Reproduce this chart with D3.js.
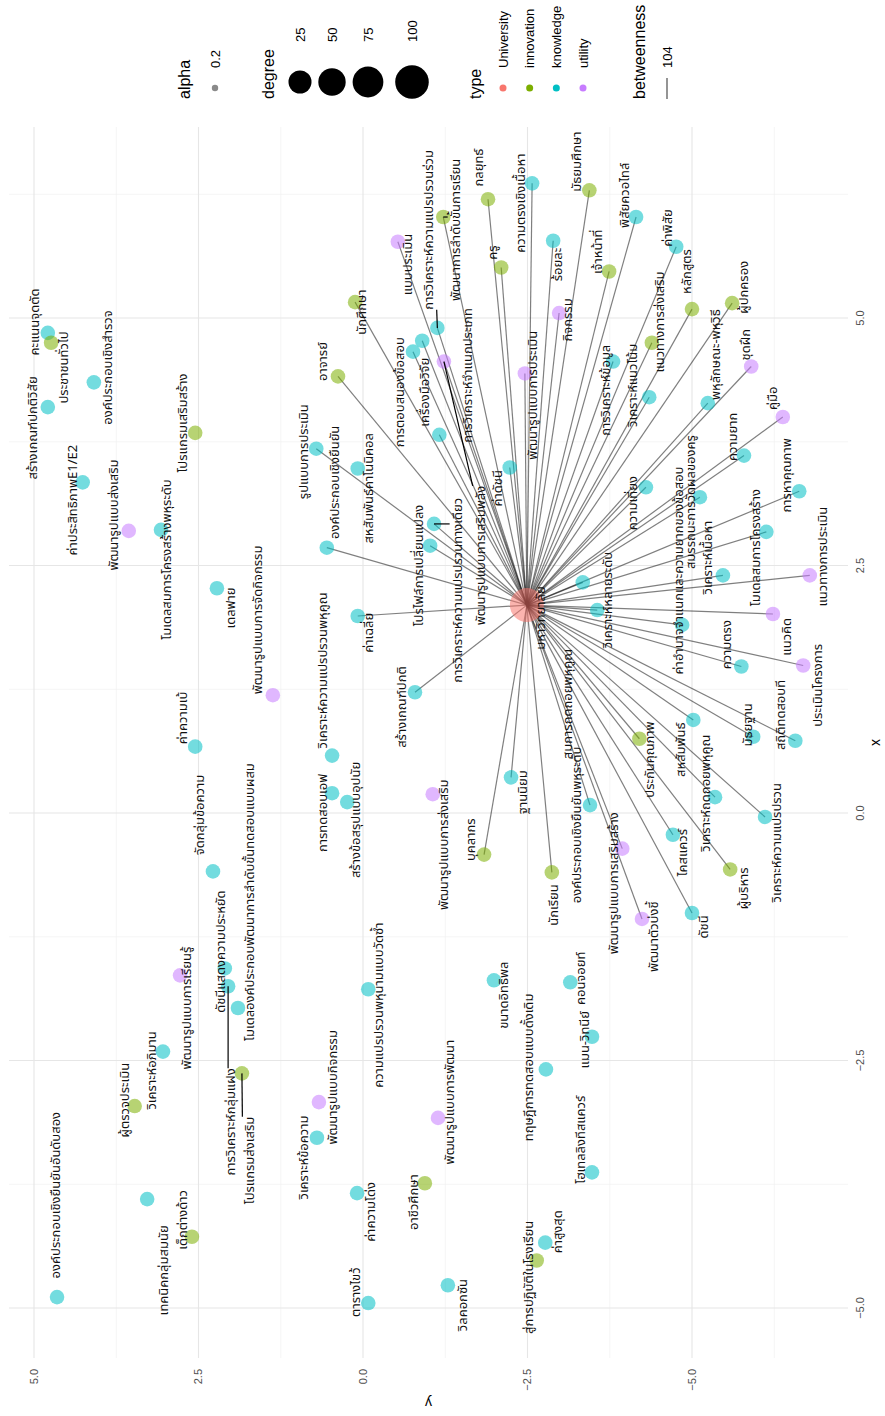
<!DOCTYPE html>
<html>
<head>
<meta charset="utf-8">
<script src="https://cdn.jsdelivr.net/npm/d3@7"></script>
<style>
  body { margin: 0; background: #fff; }
  text { font-family: "Liberation Sans", Arial, sans-serif; }
  .lbl { font-family: "Noto Sans Thai", "Noto Sans", "DejaVu Sans", sans-serif; font-size: 13px; fill: #111; }
</style>
</head>
<body>
<svg id="chart" width="885" height="1416"></svg>
<script>
// node table: name, type, layout x, layout y, label x, label y, linked to University
var nodes = [
  ["มหาวิทยาลัย", "University", 2.10, -2.49, 1.97, -2.69, 0],
  ["นักศึกษา", "innovation", 5.16, 0.12, 5.06, 0.02, 1],
  ["แบบประเมิน", "utility", 5.77, -0.53, 5.54, -0.68, 1],
  ["พัฒนาการลำดับขั้นการเรียน", "innovation", 6.02, -1.22, 5.89, -1.40, 1],
  ["การวิเคราะห์ความแปรปรวนร่วม", "knowledge", 4.90, -1.13, 5.89, -0.99, 1],
  ["กลยุทธ์", "innovation", 6.20, -1.90, 6.52, -1.75, 1],
  ["ครู", "innovation", 5.51, -2.10, 5.66, -1.96, 1],
  ["ความตรงเชิงเนื้อหา", "knowledge", 6.36, -2.57, 6.16, -2.39, 1],
  ["ร้อยละ", "knowledge", 5.78, -2.89, 5.54, -2.95, 1],
  ["มัธยมศึกษา", "innovation", 6.29, -3.44, 6.58, -3.25, 1],
  ["กิจกรรม", "utility", 5.05, -2.98, 4.98, -3.10, 1],
  ["เจ้าหน้าที่", "innovation", 5.47, -3.74, 5.67, -3.56, 1],
  ["พิสัยควอไทล์", "knowledge", 6.02, -4.15, 6.24, -3.98, 1],
  ["ค่าพิสัย", "knowledge", 5.72, -4.76, 5.91, -4.62, 1],
  ["หลักสูตร", "innovation", 5.09, -5.00, 5.47, -4.92, 1],
  ["ผู้ปกครอง", "innovation", 5.15, -5.61, 5.31, -5.78, 1],
  ["แนวทางการส่งเสริม", "innovation", 4.75, -4.39, 4.96, -4.51, 1],
  ["การวิเคราะห์ข้อมูล", "knowledge", 4.56, -3.80, 4.27, -3.68, 1],
  ["วิเคราะห์แนวโน้ม", "knowledge", 4.20, -4.35, 4.32, -4.10, 1],
  ["พหุลักษณะ-พหุวิธี", "knowledge", 4.14, -5.24, 4.63, -5.35, 1],
  ["ชุดฝึก", "utility", 4.51, -5.90, 4.73, -5.81, 1],
  ["คู่มือ", "utility", 4.00, -6.38, 4.19, -6.23, 1],
  ["ความยาก", "knowledge", 3.61, -5.79, 3.80, -5.62, 1],
  ["การหาคุณภาพ", "knowledge", 3.25, -6.63, 3.41, -6.44, 1],
  ["สมรรถนะการวัดผลของครู", "knowledge", 3.19, -5.12, 3.14, -4.97, 1],
  ["ความเที่ยง", "knowledge", 3.29, -4.30, 3.13, -4.09, 1],
  ["โมเดลสมการโครงสร้าง", "knowledge", 2.84, -6.13, 2.68, -5.96, 1],
  ["วิเคราะห์เนื้อหา", "knowledge", 2.40, -5.47, 2.58, -5.24, 1],
  ["แนวทางการประเมิน", "utility", 2.40, -6.79, 2.59, -6.98, 1],
  ["แนวคิด", "utility", 2.01, -6.23, 1.78, -6.44, 1],
  ["ค่าอำนาจจำแนกและความยากของข้อสอบ", "knowledge", 1.90, -4.85, 2.45, -4.79, 1],
  ["วิเคราะห์หลายระดับ", "knowledge", 2.05, -3.56, 2.15, -3.72, 1],
  ["สมการถดถอยพหุคูณ", "knowledge", 2.33, -3.34, 1.10, -3.10, 1],
  ["อาจารย์", "innovation", 4.41, 0.38, 4.56, 0.61, 1],
  ["รูปแบบการประเมิน", "knowledge", 3.68, 0.71, 3.65, 0.91, 1],
  ["องค์ประกอบเชิงยืนยัน", "knowledge", 2.68, 0.55, 3.34, 0.43, 1],
  ["สหสัมพันธ์คาโนนิคอล", "knowledge", 3.48, 0.08, 3.28, -0.08, 0],
  ["ค่าเฉลี่ย", "knowledge", 1.99, 0.08, 1.82, -0.08, 1],
  ["การตอบสนองข้อสอบ", "knowledge", 4.66, -0.76, 4.25, -0.56, 1],
  ["เครื่องมือวิจัย", "knowledge", 4.77, -0.90, 4.25, -0.94, 1],
  ["พัฒนารูปแบบการเสริมพลัง", "utility", 4.56, -1.23, 2.60, -1.78, 1],
  ["การวิเคราะห์จำแนกประเภท", "knowledge", 3.82, -1.16, 4.42, -1.58, 1],
  ["การวิเคราะห์ความแปรปรวนทางเดียว", "knowledge", 2.92, -1.08, 2.25, -1.43, 1],
  ["โปรไฟล์การเปลี่ยนแปลง", "knowledge", 2.70, -1.02, 2.50, -0.84, 1],
  ["ค่าดัชนี", "knowledge", 3.49, -2.23, 3.28, -2.04, 1],
  ["พัฒนารูปแบบการประเมิน", "utility", 4.44, -2.46, 4.22, -2.58, 1],
  ["สร้างเกณฑ์ปกติ", "knowledge", 1.22, -0.79, 1.07, -0.59, 1],
  ["ฐานนิยม", "knowledge", 0.36, -2.25, 0.21, -2.43, 1],
  ["บุคลากร", "innovation", -0.42, -1.84, -0.27, -1.63, 1],
  ["นักเรียน", "innovation", -0.60, -2.87, -0.93, -2.89, 1],
  ["องค์ประกอบเชิงยืนยันพหุระดับ", "knowledge", 0.08, -3.45, -0.12, -3.25, 1],
  ["พัฒนารูปแบบการเสริมสร้าง", "utility", -0.36, -3.94, -0.71, -3.80, 1],
  ["พัฒนาตัวบ่งชี้", "utility", -1.07, -4.24, -1.25, -4.41, 1],
  ["ดัชนี", "knowledge", -1.01, -5.00, -1.15, -5.17, 1],
  ["ผู้บริหาร", "innovation", -0.57, -5.58, -0.76, -5.78, 1],
  ["ไคสแควร์", "knowledge", -0.22, -4.71, -0.40, -4.86, 1],
  ["วิเคราะห์ความแปรปรวน", "knowledge", -0.04, -6.11, -0.30, -6.29, 1],
  ["วิเคราะห์ถดถอยพหุคูณ", "knowledge", 0.16, -5.35, 0.20, -5.20, 1],
  ["ประกันคุณภาพ", "innovation", 0.75, -4.20, 0.54, -4.36, 1],
  ["สหสัมพันธ์", "knowledge", 0.94, -5.02, 0.64, -4.82, 1],
  ["มัธยฐาน", "knowledge", 0.77, -5.93, 0.89, -5.84, 1],
  ["สถิติทดสอบที", "knowledge", 0.73, -6.57, 0.99, -6.34, 1],
  ["ความตรง", "knowledge", 1.48, -5.75, 1.70, -5.53, 1],
  ["ประเมินโครงการ", "utility", 1.49, -6.69, 1.29, -6.90, 1],
  ["วิเคราะห์ความแปรปรวนพหุคูณ", "knowledge", 0.58, 0.47, 1.44, 0.62, 0],
  ["การทดสอบเอฟ", "knowledge", 0.20, 0.47, 0.00, 0.62, 0],
  ["สร้างข้อสรุปแบบอุปนัย", "knowledge", 0.11, 0.24, -0.07, 0.12, 0],
  ["พัฒนารูปแบบการส่งเสริม", "utility", 0.19, -1.06, -0.32, -1.22, 0],
  ["องค์ประกอบเชิงยืนยันอันดับสอง", "knowledge", -4.89, 4.65, -3.86, 4.68, 0],
  ["คะแนนจุดตัด", "knowledge", 4.85, 4.79, 4.96, 4.99, 0],
  ["ประชาชนทั่วไป", "innovation", 4.75, 4.74, 4.50, 4.56, 0],
  ["สร้างเกณฑ์ปกติวิสัย", "knowledge", 4.10, 4.79, 3.89, 5.02, 0],
  ["องค์ประกอบเชิงสำรวจ", "knowledge", 4.35, 4.09, 4.50, 3.89, 0],
  ["ค่าประสิทธิภาพE1/E2", "knowledge", 3.34, 4.26, 3.16, 4.42, 0],
  ["โปรแกรมเสริมสร้าง", "innovation", 3.84, 2.55, 3.94, 2.75, 0],
  ["พัฒนารูปแบบส่งเสริม", "utility", 2.85, 3.56, 3.01, 3.80, 0],
  ["โมเดลสมการโครงสร้างพหุระดับ", "knowledge", 2.86, 3.07, 2.56, 2.98, 0],
  ["เดลฟาย", "knowledge", 2.27, 2.22, 2.07, 2.02, 0],
  ["พัฒนารูปแบบการจัดกิจกรรม", "utility", 1.19, 1.37, 1.95, 1.60, 0],
  ["ค่าความเบ้", "knowledge", 0.67, 2.55, 0.96, 2.75, 0],
  ["จัดกลุ่มข้อความ", "knowledge", -0.59, 2.28, -0.02, 2.48, 0],
  ["พัฒนารูปแบบการเรียนรู้", "utility", -1.64, 2.78, -1.97, 2.68, 0],
  ["ดัชนีแสดงความประหยัด", "knowledge", -1.57, 2.10, -1.40, 2.16, 0],
  ["การวิเคราะห์กลุ่มแฝง", "knowledge", -1.75, 2.05, -3.12, 2.02, 0],
  ["โมเดลองค์ประกอบพัฒนาการลำดับขั้นทดสอบแบบผสม", "knowledge", -1.97, 1.90, -0.90, 1.72, 0],
  ["โปรแกรมส่งเสริม", "innovation", -2.63, 1.84, -3.51, 1.72, 0],
  ["วิเคราะห์อภิมาน", "knowledge", -2.41, 3.04, -2.60, 3.21, 0],
  ["ผู้ตรวจประเมิน", "innovation", -2.96, 3.47, -2.90, 3.62, 0],
  ["เทคนิคกลุ่มสมนัย", "knowledge", -3.90, 3.28, -4.62, 3.04, 0],
  ["เด็กต่างด้าว", "innovation", -4.28, 2.60, -4.11, 2.75, 0],
  ["พัฒนารูปแบบกิจกรรม", "utility", -2.92, 0.67, -2.77, 0.47, 0],
  ["วิเคราะห์ข้อความ", "knowledge", -3.28, 0.70, -3.48, 0.91, 0],
  ["ค่าความโด่ง", "knowledge", -3.84, 0.09, -4.03, -0.11, 0],
  ["ตารางไขว้", "knowledge", -4.95, -0.08, -4.84, 0.12, 0],
  ["อาชีวศึกษา", "innovation", -3.74, -0.94, -3.93, -0.76, 0],
  ["พัฒนารูปแบบการพัฒนา", "utility", -3.08, -1.14, -2.92, -1.32, 0],
  ["วิลคอกซัน", "knowledge", -4.77, -1.29, -4.97, -1.51, 0],
  ["สู่การปฏิบัติในโรงเรียน", "innovation", -4.52, -2.64, -4.69, -2.51, 0],
  ["ค่าสูงสุด", "knowledge", -4.34, -2.77, -4.23, -2.95, 0],
  ["ความแปรปรวนพหุนามแบบวัดซ้ำ", "knowledge", -1.78, -0.08, -1.94, -0.23, 0],
  ["ขนาดอิทธิพล", "knowledge", -1.69, -1.99, -1.84, -2.13, 0],
  ["คอนจอยท์", "knowledge", -1.71, -3.15, -1.67, -3.30, 0],
  ["แมน-วิทนีย์", "knowledge", -2.26, -3.48, -2.29, -3.37, 0],
  ["ทฤษฎีการทดสอบแบบดั้งเดิม", "knowledge", -2.59, -2.78, -2.57, -2.51, 0],
  ["โฮเทลลิงทีสแควร์", "knowledge", -3.63, -3.48, -3.30, -3.30, 0]
];

// labels that ggrepel pushed off their points (drawn with a leader)
var repelled = ["พัฒนาการลำดับขั้นการเรียน", "การวิเคราะห์ความแปรปรวนร่วม", "พัฒนารูปแบบการเสริมพลัง",
  "การวิเคราะห์ความแปรปรวนทางเดียว", "การวิเคราะห์กลุ่มแฝง", "โปรแกรมส่งเสริม"];

var nodeDegree = { "มหาวิทยาลัย": 104 };
var typeNames = ["University", "innovation", "knowledge", "utility"];
var degreeBreaks = [25, 50, 75, 100];
var betweennessBreaks = [104];
var alphaBreaks = [0.2];
var xTicks = [-5, -2.5, 0, 2.5, 5];
var yTicks = [-5, -2.5, 0, 2.5, 5];
var xMinor = [-3.75, -1.25, 1.25, 3.75, 6.25];
var yMinor = [-6.25, -3.75, -1.25, 1.25, 3.75];

var colors = d3.scaleOrdinal().domain(typeNames).range(["#F8766D", "#7CAE00", "#00BFC4", "#C77CFF"]);

// whole plot is drawn upright then turned a quarter turn counter-clockwise
var W = 1416, H = 885;
var svg = d3.select("#chart");
svg.append("rect").attr("width", 885).attr("height", 1416).attr("fill", "#fff");
var g = svg.append("g").attr("transform", "translate(0," + W + ") rotate(-90)");

var panel = { left: 58, right: 1289, top: 9, bottom: 848 };
var x = d3.scaleLinear().domain([-5, 5]).range([108, 1098]);
var y = d3.scaleLinear().domain([-5, 5]).range([692, 34]);
var r = d3.scaleSqrt().domain([1, 104]).range([7.3, 17]);

// grid
g.selectAll(".xminor").data(xMinor).enter().append("line")
  .attr("x1", d => x(d)).attr("x2", d => x(d))
  .attr("y1", panel.top).attr("y2", panel.bottom)
  .attr("stroke", "#f0f0f0").attr("stroke-width", 0.7);
g.selectAll(".yminor").data(yMinor).enter().append("line")
  .attr("y1", d => y(d)).attr("y2", d => y(d))
  .attr("x1", panel.left).attr("x2", panel.right)
  .attr("stroke", "#f0f0f0").attr("stroke-width", 0.7);
g.selectAll(".xmajor").data(xTicks).enter().append("line")
  .attr("x1", d => x(d)).attr("x2", d => x(d))
  .attr("y1", panel.top).attr("y2", panel.bottom)
  .attr("stroke", "#e6e6e6").attr("stroke-width", 1.1);
g.selectAll(".ymajor").data(yTicks).enter().append("line")
  .attr("y1", d => y(d)).attr("y2", d => y(d))
  .attr("x1", panel.left).attr("x2", panel.right)
  .attr("stroke", "#e6e6e6").attr("stroke-width", 1.1);

// axes labels
var fmt = d3.format(".1f");
g.selectAll(".xtick").data(xTicks).enter().append("text")
  .attr("x", d => x(d)).attr("y", panel.bottom + 16)
  .attr("text-anchor", "middle").attr("font-size", 11).attr("fill", "#4d4d4d")
  .text(d => fmt(d));
g.selectAll(".ytick").data(yTicks).enter().append("text")
  .attr("x", panel.left - 11).attr("y", d => y(d)).attr("dy", "0.35em")
  .attr("text-anchor", "end").attr("font-size", 11).attr("fill", "#4d4d4d")
  .text(d => fmt(d));
g.append("text").attr("x", (panel.left + panel.right) / 2).attr("y", 880)
  .attr("text-anchor", "middle").attr("font-size", 14).text("x");
g.append("text").attr("transform", "translate(18," + ((panel.top + panel.bottom) / 2) + ") rotate(-90)")
  .attr("text-anchor", "middle").attr("font-size", 14).text("y");

// edges from the University node
var hub = nodes[0];
g.selectAll(".edge").data(nodes.filter(d => d[6] === 1)).enter().append("line")
  .attr("x1", x(hub[2])).attr("y1", y(hub[3]))
  .attr("x2", d => x(d[2])).attr("y2", d => y(d[3]))
  .attr("stroke", "#000").attr("stroke-opacity", 0.5).attr("stroke-width", 1.2);

// nodes
g.selectAll(".node").data(nodes).enter().append("circle")
  .attr("cx", d => x(d[2])).attr("cy", d => y(d[3]))
  .attr("r", d => r(nodeDegree[d[0]] || 1))
  .attr("fill", d => colors(d[1])).attr("fill-opacity", 0.55);

// labels, leader segments for the repelled ones
var segLayer = g.append("g");
var labels = g.selectAll(".lbl").data(nodes).enter().append("text")
  .attr("class", "lbl")
  .attr("x", d => x(d[4])).attr("y", d => y(d[5]))
  .attr("text-anchor", "middle").attr("dy", "0.35em")
  .text(d => d[0]);
labels.filter(d => repelled.indexOf(d[0]) >= 0).each(function (d) {
  var b = this.getBBox();
  var px = x(d[2]), py = y(d[3]);
  var qx = Math.max(b.x, Math.min(px, b.x + b.width));
  var qy = Math.max(b.y + 2, Math.min(py, b.y + b.height - 2));
  segLayer.append("line").attr("x1", px).attr("y1", py).attr("x2", qx).attr("y2", qy)
    .attr("stroke", "#000").attr("stroke-width", 1.2);
});

// legend
var lg = g.append("g");
var lx0 = 1317;
function title(t, v) {
  lg.append("text").attr("x", lx0).attr("y", v).attr("font-size", 16).text(t);
}
title("alpha", 190);
lg.selectAll(".ak").data(alphaBreaks).enter().append("circle")
  .attr("cx", 1328).attr("cy", 215).attr("r", 3.2).attr("fill", "#8a8a8a");
lg.selectAll(".al").data(alphaBreaks).enter().append("text")
  .attr("x", 1348).attr("y", 215).attr("dy", "0.35em").attr("font-size", 13).text(d => d);

title("degree", 274);
var degV = d3.scaleOrdinal().domain(degreeBreaks).range([300, 332, 368, 412]);
lg.selectAll(".dk").data(degreeBreaks).enter().append("circle")
  .attr("cx", 1334).attr("cy", d => degV(d))
  .attr("r", d => r(d)).attr("fill", "#000");
lg.selectAll(".dl").data(degreeBreaks).enter().append("text")
  .attr("x", 1374).attr("y", d => degV(d))
  .attr("dy", "0.35em").attr("font-size", 13).text(d => d);

title("type", 481);
var typeV = d3.scalePoint().domain(typeNames).range([503, 583]);
lg.selectAll(".tk").data(typeNames).enter().append("circle")
  .attr("cx", 1328).attr("cy", d => typeV(d)).attr("r", 3.5).attr("fill", d => colors(d));
lg.selectAll(".tl").data(typeNames).enter().append("text")
  .attr("x", 1348).attr("y", d => typeV(d)).attr("dy", "0.35em").attr("font-size", 13).text(d => d);

title("betweenness", 645);
lg.selectAll(".bk").data(betweennessBreaks).enter().append("line")
  .attr("x1", 1317).attr("x2", 1338).attr("y1", 667).attr("y2", 667)
  .attr("stroke", "#000").attr("stroke-opacity", 0.6).attr("stroke-width", 1.4);
lg.selectAll(".bl").data(betweennessBreaks).enter().append("text")
  .attr("x", 1348).attr("y", 667).attr("dy", "0.35em").attr("font-size", 13).text(d => d);
</script>
</body>
</html>
